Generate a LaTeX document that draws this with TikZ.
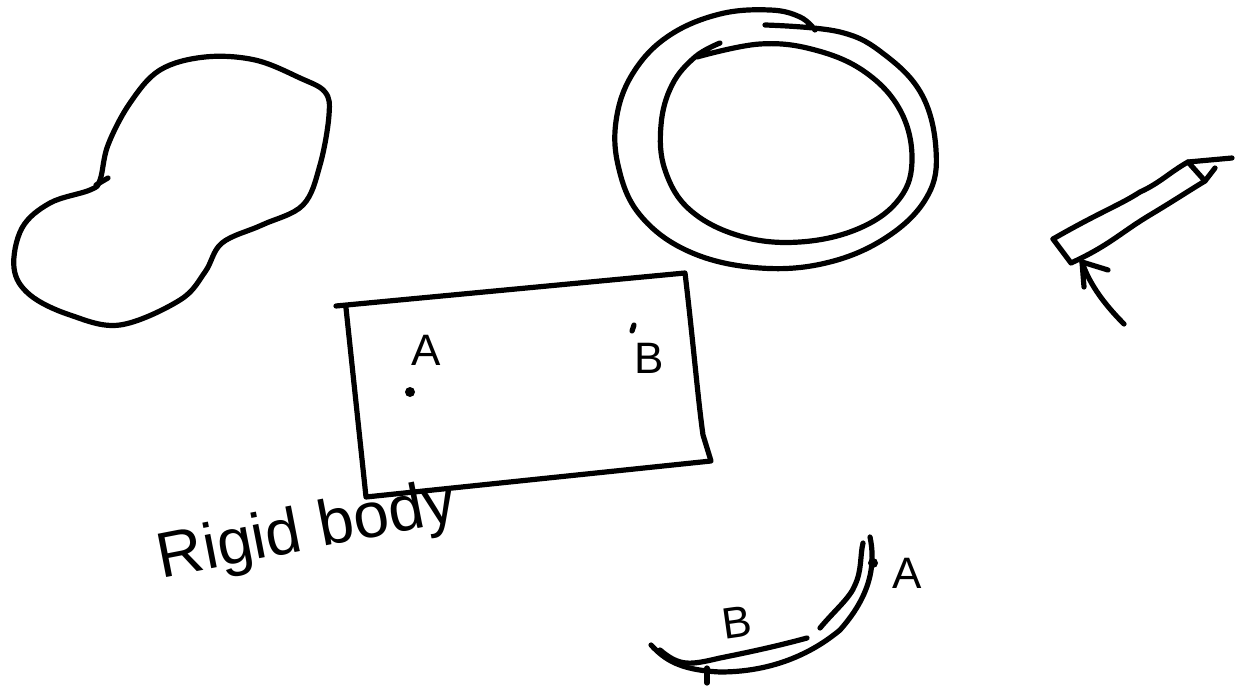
\documentclass[tikz,border=0pt]{standalone}
\usepackage{fontspec}
\setmainfont{Liberation Sans}
\begin{document}
\begin{tikzpicture}[x=0.5pt,y=-0.5pt,
  ink/.style={line width=2.6pt,line cap=round,line join=round,black},
  hand/.style={font=\fontsize{22}{24}\selectfont,inner sep=0pt}]
\useasboundingbox (0,0) rectangle (1240,689);
% blob
\draw[ink] plot[smooth cycle,tension=0.6] coordinates{(100,180) (108,145) (130,103) (160,70) (205,57) (255,60) (300,78) (325,92) (329,115) (320,165) (303,205) (262,225) (222,243) (205,272) (180,300) (120,325) (70,315) (30,295) (14,268) (22,228) (50,203) (90,190)};
\draw[ink] (96,185) -- (108,178);
% outer ring
\draw[ink] plot[smooth,tension=0.65] coordinates{(815,30) (800,17) (770,10) (720,14) (670,35) (635,70) (617,115) (618,165) (640,215) (690,252) (760,268) (830,262) (890,235) (928,195) (936,150) (922,95) (885,55) (840,32) (765,25)};
% inner ring
\draw[ink] plot[smooth,tension=0.65] coordinates{(720,43) (695,57) (672,85) (661,125) (665,170) (690,210) (740,236) (800,242) (860,228) (900,198) (912,158) (900,110) (865,72) (815,50) (760,44) (697,57)};
% rectangle
\node[coordinate] (r1) at (336,306) {};
\node[coordinate] (r2) at (685,273) {};
\node[coordinate] (r3) at (711,461) {};
\node[coordinate] (r4) at (366,497) {};
\draw[ink] (r1) -- (r2) .. controls (693,340) and (698,400) .. (703,435) -- (r3) -- (r4) -- (346,308);
\node[hand] (la) at (426,350) {A};
\fill (410,392) circle (5);
\node[hand] (lb) at (649,358) {B};
\draw[ink] (632,331) -- (634,325);
% text
\node[hand,font=\fontsize{32}{34}\selectfont,rotate=11] (rb) at (307,533) {Rigid body};
% stick
\node[coordinate] (s1) at (1053,239) {};
\node[coordinate] (s2) at (1188,162) {};
\node[coordinate] (s3) at (1205,181) {};
\node[coordinate] (s4) at (1071,263) {};
\draw[ink] (s1) .. controls (1100,212) and (1120,205) .. (1140,192) .. controls (1160,183) and (1170,172) .. (s2) -- (1232,158);
\draw[ink] (s1) -- (s4) .. controls (1110,245) and (1120,233) .. (1150,215) .. controls (1175,200) and (1190,190) .. (s3) -- (s2);
\draw[ink] (s3) -- (1215,168);
% arrow
\node[coordinate] (a0) at (1124,324) {};
\node[coordinate] (a1) at (1082,262) {};
\draw[ink] (a0) .. controls (1100,300) and (1088,280) .. (a1);
\draw[ink] (1084,287) -- (a1) -- (1108,270);
% bottom curve
\draw[ink] (651,645) .. controls (665,660) and (680,670) .. (720,672) .. controls (770,672) and (810,655) .. (840,630) .. controls (862,605) and (878,575) .. (870,537);
\draw[ink] (660,650) .. controls (680,667) and (690,665) .. (720,658) .. controls (760,650) and (785,644) .. (807,638);
\draw[ink] (820,628) .. controls (835,610) and (850,598) .. (855,585) .. controls (862,570) and (860,555) .. (863,543);
\draw[ink] (707,668) -- (707,683);
\fill (873,563) circle (5);
\node[hand,rotate=8] (bb) at (737,622) {B};
\node[hand] (ba) at (907,573) {A};
\end{tikzpicture}
\end{document}
